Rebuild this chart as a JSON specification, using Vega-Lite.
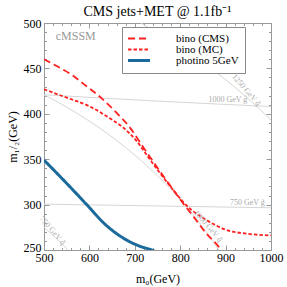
{
  "$schema": "https://vega.github.io/schema/vega-lite/v6.json",
  "width": 227,
  "height": 227,
  "autosize": "none",
  "padding": {"left": 44, "top": 23, "right": 16, "bottom": 37},
  "background": "white",
  "title": {"text": "CMS jets+MET @ 1.1fb⁻¹", "font": "Liberation Serif", "fontSize": 14, "fontWeight": "normal", "offset": -2, "color": "black"},
  "config": {
    "view": {"stroke": null},
    "axis": {"grid": false, "domainColor": "#999", "tickColor": "#999", "labelFont": "Liberation Serif", "labelFontSize": 12, "labelColor": "black", "titleFont": "Liberation Serif", "titleFontSize": 12, "titleFontWeight": "normal", "titleColor": "black", "labelOverlap": false, "labelFlush": false}
  },
  "datasets": {
    "curves": [
      {"series": "bino (CMS)", "m0": 500, "m12": 460},
      {"series": "bino (CMS)", "m0": 530, "m12": 452},
      {"series": "bino (CMS)", "m0": 561, "m12": 443},
      {"series": "bino (CMS)", "m0": 587, "m12": 433},
      {"series": "bino (CMS)", "m0": 627, "m12": 417},
      {"series": "bino (CMS)", "m0": 660, "m12": 401},
      {"series": "bino (CMS)", "m0": 689, "m12": 385},
      {"series": "bino (CMS)", "m0": 707, "m12": 372},
      {"series": "bino (CMS)", "m0": 719, "m12": 363},
      {"series": "bino (CMS)", "m0": 748, "m12": 342},
      {"series": "bino (CMS)", "m0": 785, "m12": 316},
      {"series": "bino (CMS)", "m0": 807, "m12": 301},
      {"series": "bino (CMS)", "m0": 829, "m12": 287},
      {"series": "bino (CMS)", "m0": 858, "m12": 268},
      {"series": "bino (CMS)", "m0": 884, "m12": 254},
      {"series": "bino (CMS)", "m0": 890, "m12": 250},
      {"series": "bino (MC)", "m0": 500, "m12": 427},
      {"series": "bino (MC)", "m0": 543, "m12": 419},
      {"series": "bino (MC)", "m0": 601, "m12": 408},
      {"series": "bino (MC)", "m0": 645, "m12": 395},
      {"series": "bino (MC)", "m0": 674, "m12": 385},
      {"series": "bino (MC)", "m0": 704, "m12": 370},
      {"series": "bino (MC)", "m0": 730, "m12": 352},
      {"series": "bino (MC)", "m0": 755, "m12": 335},
      {"series": "bino (MC)", "m0": 788, "m12": 314},
      {"series": "bino (MC)", "m0": 814, "m12": 299},
      {"series": "bino (MC)", "m0": 858, "m12": 283},
      {"series": "bino (MC)", "m0": 902, "m12": 272},
      {"series": "bino (MC)", "m0": 946, "m12": 268},
      {"series": "bino (MC)", "m0": 1000, "m12": 266},
      {"series": "photino 5GeV", "m0": 500, "m12": 349},
      {"series": "photino 5GeV", "m0": 543, "m12": 327},
      {"series": "photino 5GeV", "m0": 594, "m12": 300},
      {"series": "photino 5GeV", "m0": 631, "m12": 280},
      {"series": "photino 5GeV", "m0": 675, "m12": 263},
      {"series": "photino 5GeV", "m0": 712, "m12": 254},
      {"series": "photino 5GeV", "m0": 737, "m12": 250},
      {"series": "photino 5GeV", "m0": 750, "m12": 247}
    ],
    "contours": [
      {"contour": "gl1000", "m0": 500, "m12": 421},
      {"contour": "gl1000", "m0": 750, "m12": 414},
      {"contour": "gl1000", "m0": 1000, "m12": 408},
      {"contour": "gl750", "m0": 500, "m12": 300.5},
      {"contour": "gl750", "m0": 750, "m12": 298.5},
      {"contour": "gl750", "m0": 1000, "m12": 296.5},
      {"contour": "sq1250", "m0": 713, "m12": 500},
      {"contour": "sq1250", "m0": 781, "m12": 480},
      {"contour": "sq1250", "m0": 840, "m12": 460},
      {"contour": "sq1250", "m0": 894, "m12": 440},
      {"contour": "sq1250", "m0": 942, "m12": 420},
      {"contour": "sq1250", "m0": 986, "m12": 400},
      {"contour": "sq1250", "m0": 1000, "m12": 393},
      {"contour": "sq1000", "m0": 500, "m12": 421},
      {"contour": "sq1000", "m0": 550, "m12": 407.4},
      {"contour": "sq1000", "m0": 600, "m12": 391.9},
      {"contour": "sq1000", "m0": 650, "m12": 374.4},
      {"contour": "sq1000", "m0": 700, "m12": 354.5},
      {"contour": "sq1000", "m0": 750, "m12": 331.8},
      {"contour": "sq1000", "m0": 800, "m12": 305.6},
      {"contour": "sq1000", "m0": 850, "m12": 275},
      {"contour": "sq1000", "m0": 885, "m12": 250},
      {"contour": "sq750", "m0": 500, "m12": 275},
      {"contour": "sq750", "m0": 520, "m12": 266.1},
      {"contour": "sq750", "m0": 540, "m12": 256.6},
      {"contour": "sq750", "m0": 553, "m12": 250}
    ],
    "labels": [
      {"kind": "tag", "label": "cMSSM", "m0": 570, "m12": 485.5},
      {"kind": "gluino", "label": "1000 GeV g̃", "m0": 905, "m12": 415.5},
      {"kind": "gluino", "label": "750 GeV g̃", "m0": 948, "m12": 302},
      {"kind": "squark", "label": "1250 GeV q̃", "m0": 945, "m12": 426},
      {"kind": "squark", "label": "1000 GeV q̃", "m0": 861, "m12": 276},
      {"kind": "squark", "label": "750 GeV q̃", "m0": 518, "m12": 271}
    ]
  },
  "layer": [
    {
      "data": {"name": "contours"},
      "mark": {"type": "line", "color": "#d6d6d6", "strokeWidth": 1, "clip": true, "interpolate": "monotone"},
      "encoding": {
        "x": {"field": "m0", "type": "quantitative", "scale": {"domain": [500, 1000], "nice": false, "zero": false},
          "axis": {"orient": "bottom", "format": "d", "values": [500,520,540,560,580,600,620,640,660,680,700,720,740,760,780,800,820,840,860,880,900,920,940,960,980,1000],
            "labelExpr": "datum.value % 100 === 0 ? datum.label : ''",
            "tickSize": {"condition": {"test": "datum.value % 100 === 0", "value": -5}, "value": -2.5},
            "labelPadding": 7, "title": "m₀(GeV)", "titlePadding": 8}},
        "y": {"field": "m12", "type": "quantitative", "scale": {"domain": [250, 500], "nice": false, "zero": false},
          "axis": {"orient": "left", "format": "d", "values": [250,260,270,280,290,300,310,320,330,340,350,360,370,380,390,400,410,420,430,440,450,460,470,480,490,500],
            "labelExpr": "datum.value % 50 === 0 ? datum.label : ''",
            "labelOffset": {"condition": {"test": "datum.value === 250", "value": -3}, "value": 0},
            "tickSize": {"condition": {"test": "datum.value % 50 === 0", "value": -5}, "value": -2.5},
            "labelPadding": 8, "title": "m₁/₂(GeV)", "titlePadding": 4}},
        "detail": {"field": "contour", "type": "nominal"}
      }
    },
    {
      "data": {"name": "curves"},
      "mark": {"type": "line", "clip": true, "interpolate": "monotone"},
      "encoding": {
        "x": {"field": "m0", "type": "quantitative",
          "axis": {"orient": "top", "labels": false, "title": null, "values": [500,520,540,560,580,600,620,640,660,680,700,720,740,760,780,800,820,840,860,880,900,920,940,960,980,1000],
            "tickSize": {"condition": {"test": "datum.value % 100 === 0", "value": -5}, "value": -2.5}}},
        "y": {"field": "m12", "type": "quantitative",
          "axis": {"orient": "right", "labels": false, "title": null, "values": [250,260,270,280,290,300,310,320,330,340,350,360,370,380,390,400,410,420,430,440,450,460,470,480,490,500],
            "tickSize": {"condition": {"test": "datum.value % 50 === 0", "value": -5}, "value": -2.5}}},
        "color": {"field": "series", "type": "nominal",
          "scale": {"domain": ["bino (CMS)", "bino (MC)", "photino 5GeV"], "range": ["#ff2020", "#ff2020", "#1a6a9c"]},
          "legend": {"title": null, "orient": "none", "legendX": 78, "legendY": 4, "symbolType": "M-1,0H3", "symbolSize": 121, "symbolStrokeWidth": 1.8,
            "labelFont": "Liberation Serif", "labelFontSize": 11, "labelColor": "black", "labelOffset": 37, "padding": 6, "strokeColor": "#888", "fillColor": "white", "rowPadding": -1,
            "labelExpr": "datum.label + '\u2003\u2003\u2002'",
            "encode": {"symbols": {"update": {"strokeWidth": {"signal": "datum.value === 'photino 5GeV' ? 3 : 1.8"}}}}}},
        "strokeDash": {"field": "series", "type": "nominal",
          "scale": {"domain": ["bino (CMS)", "bino (MC)", "photino 5GeV"], "range": [[7, 4], [3.5, 2], [1, 0]]},
          "legend": {"title": null}},
        "strokeWidth": {"condition": {"test": "datum.series === 'photino 5GeV'", "value": 3}, "value": 1.8}
      }
    },
    {
      "data": {"name": "labels"},
      "transform": [{"filter": "datum.kind === 'tag'"}],
      "mark": {"type": "text", "font": "Liberation Serif", "fontSize": 12, "color": "#999"},
      "encoding": {
        "x": {"field": "m0", "type": "quantitative", "axis": null},
        "y": {"field": "m12", "type": "quantitative", "axis": null},
        "text": {"field": "label"}
      }
    },
    {
      "data": {"name": "labels"},
      "transform": [{"filter": "datum.kind === 'gluino'"}],
      "mark": {"type": "text", "font": "Liberation Serif", "fontSize": 8, "color": "#aaa"},
      "encoding": {
        "x": {"field": "m0", "type": "quantitative", "axis": null},
        "y": {"field": "m12", "type": "quantitative", "axis": null},
        "text": {"field": "label"}
      }
    },
    {
      "data": {"name": "labels"},
      "transform": [{"filter": "datum.kind === 'squark'"}],
      "mark": {"type": "text", "font": "Liberation Serif", "fontSize": 8, "color": "#aaa", "angle": 49},
      "encoding": {
        "x": {"field": "m0", "type": "quantitative", "axis": null},
        "y": {"field": "m12", "type": "quantitative", "axis": null},
        "text": {"field": "label"}
      }
    }
  ],
  "resolve": {"axis": {"x": "independent", "y": "independent"}}
}
